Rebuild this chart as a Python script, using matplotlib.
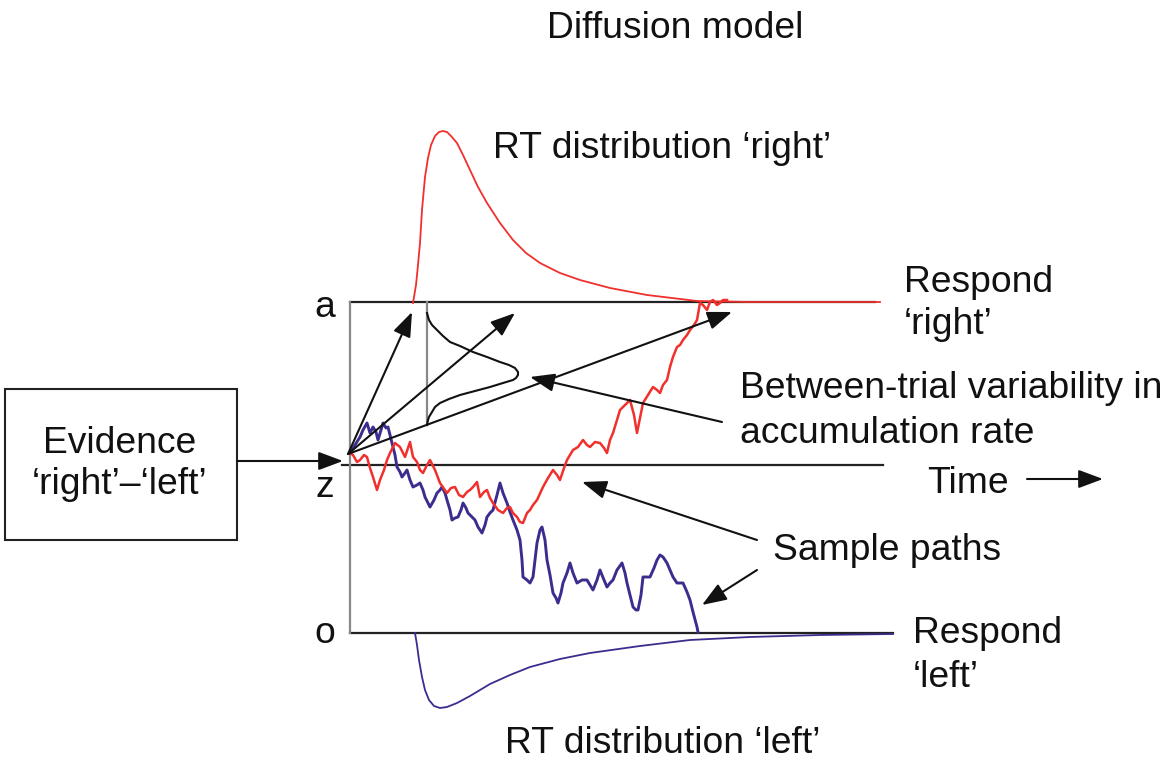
import matplotlib
matplotlib.use("Agg")
import matplotlib.pyplot as plt
from matplotlib.patches import Rectangle

plt.rcParams['font.family'] = ['Liberation Sans', 'DejaVu Sans']

# Model coordinates: t = time since stimulus onset, e = accumulated evidence
# (lower boundary o = 0, upper boundary a, starting point z)
BOUND_A = 331
START_Z = 168

# Sample path that terminates at the upper boundary ('right')
red_path_t = [0, 3, 7, 10, 14, 17, 20, 23, 27, 30, 34, 37, 40, 45, 50, 55, 60, 63, 67, 70,
              73, 77, 80, 85, 90, 97, 101, 105, 109, 113, 117, 120, 123, 127, 130, 134, 137,
              140, 143, 148, 153, 157, 160, 163, 167, 170, 173, 177, 180, 183, 187, 193, 198,
              203, 207, 210, 214, 217, 220, 223, 228, 233, 237, 240, 245, 250, 254, 257, 260,
              263, 267, 270, 275, 280, 284, 287, 290, 293, 298, 303, 307, 310, 313, 317, 320,
              323, 327, 330, 333, 337, 340, 344, 347, 350, 353, 357, 360, 363, 367, 370, 373, 377]
red_path_e = [180, 178, 171, 173, 178, 176, 165, 156, 143, 153, 163, 173, 180, 190, 186, 176,
              191, 176, 171, 163, 160, 168, 173, 163, 150, 140, 145, 146, 138, 136, 141, 143,
              146, 151, 136, 141, 143, 135, 130, 123, 120, 125, 126, 120, 116, 111, 110, 120,
              123, 128, 133, 146, 155, 163, 158, 153, 165, 173, 178, 183, 186, 193, 188, 186,
              191, 190, 185, 180, 193, 200, 213, 223, 228, 233, 218, 200, 215, 230, 238, 246,
              243, 240, 248, 253, 266, 276, 286, 288, 293, 298, 303, 308, 313, 330, 328, 323,
              331, 333, 328, 330, 333, 333]

# Sample path that terminates at the lower boundary ('left')
blue_path_t = [0, 5, 10, 13, 17, 20, 23, 26, 28, 31, 33, 36, 38, 40, 42, 45, 47, 50, 52, 55,
               57, 60, 63, 67, 70, 73, 75, 78, 80, 84, 87, 90, 92, 95, 97, 100, 102, 105, 108,
               111, 113, 116, 118, 122, 125, 128, 132, 135, 137, 140, 143, 147, 150, 153, 157,
               160, 163, 167, 170, 172, 173, 177, 180, 183, 185, 187, 190, 192, 195, 197, 200,
               203, 206, 208, 211, 213, 217, 220, 223, 227, 232, 237, 240, 243, 247, 250, 254,
               257, 260, 263, 267, 272, 275, 277, 280, 283, 286, 288, 291, 293, 297, 300, 304,
               307, 310, 313, 317, 320, 323, 327, 330, 333, 337, 340, 343, 347, 348]
blue_path_e = [180, 188, 196, 203, 210, 200, 206, 201, 193, 203, 210, 205, 206, 198, 190, 178,
               166, 161, 156, 160, 163, 153, 146, 148, 150, 143, 136, 130, 126, 133, 140, 143,
               146, 140, 133, 123, 113, 115, 116, 123, 130, 125, 120, 116, 113, 106, 100, 108,
               116, 120, 123, 138, 150, 140, 130, 121, 113, 103, 93, 73, 56, 53, 50, 56, 73, 90,
               103, 106, 93, 73, 58, 40, 35, 30, 40, 50, 60, 70, 60, 50, 53, 53, 48, 43, 53, 63,
               53, 46, 50, 53, 63, 70, 60, 50, 38, 26, 23, 23, 38, 56, 56, 56, 65, 73, 78, 76,
               70, 63, 56, 50, 50, 50, 41, 33, 21, 6, 1]

# RT distribution of 'right' responses, drawn above the upper boundary
rt_right_t = [63, 66, 68, 70, 72, 75, 78, 81, 85, 89, 93, 97, 101, 107, 113, 120, 128, 137,
              150, 163, 176, 190, 210, 230, 260, 297, 347, 400, 530]
rt_right_e = [330, 348, 368, 390, 423, 456, 475, 488, 497, 501, 502, 501, 497, 490, 478, 463,
              446, 430, 410, 393, 380, 370, 360, 353, 345, 338, 332, 331, 331]

# RT distribution of 'left' responses, drawn below the lower boundary
rt_left_t = [65, 67, 69, 72, 75, 79, 84, 90, 97, 107, 120, 140, 160, 180, 210, 240, 290, 340,
             400, 470, 543]
rt_left_e = [0, -12, -27, -44, -57, -67, -73, -75, -74, -70, -63, -51, -42, -34, -26, -20, -13,
             -7, -4, -2, -1]

# Distribution of drift rates across trials (drawn sideways)
drift_base_t = 77
drift_dist_t = [77, 79, 82, 87, 93, 100, 110, 123, 137, 150, 159, 165, 168, 168, 166, 163, 153,
                140, 125, 110, 99, 90, 85, 82, 79, 78, 77]
drift_dist_e = [320, 313, 308, 303, 297, 291, 287, 281, 276, 271, 268, 265, 261, 258, 255, 253,
                250, 246, 242, 238, 234, 230, 226, 221, 216, 213, 208]

# Drift vectors from the starting point (end points)
drift_end_t = [62, 165, 382]
drift_end_e = [321, 320, 321]

RED = '#f0302c'
BLUE = '#3c2c8e'
INK = '#111111'

fig = plt.figure(figsize=(11.70, 7.63), dpi=100)
ax = fig.add_axes([0, 0, 1, 1])
ax.set_xlim(-350, 820)
ax.set_ylim(-130, 633)
ax.axis('off')

# Boundaries and starting-point line
ax.plot([0, 525], [BOUND_A, BOUND_A], color='#222222', lw=1.6, zorder=2)
ax.plot([-8, 533], [START_Z, START_Z], color='#222222', lw=1.6, zorder=2)
ax.plot([0, 543], [0, 0], color='#222222', lw=1.6, zorder=2)
ax.plot([0, 0], [0, BOUND_A], color='#888888', lw=1.6, zorder=2)

# RT distributions
ax.plot(rt_right_t, rt_right_e, color=RED, lw=1.3, zorder=3)
ax.plot(rt_left_t, rt_left_e, color=BLUE, lw=1.3, zorder=3)

# Sample paths
ax.plot(blue_path_t, blue_path_e, color=BLUE, lw=2.1, zorder=4)
ax.plot(red_path_t, red_path_e, color=RED, lw=1.8, zorder=5)

# Drift-rate variability distribution
ax.plot([drift_base_t, drift_base_t], [208, BOUND_A], color='#888888', lw=1.6, zorder=3)
ax.plot(drift_dist_t, drift_dist_e, color=INK, lw=1.5, zorder=3)


def arrow(start, end):
    ax.annotate('', xy=end, xytext=start,
                arrowprops=dict(arrowstyle='-|>,head_length=0.75,head_width=0.28',
                                mutation_scale=20, lw=1.5, color=INK,
                                shrinkA=0, shrinkB=0), zorder=6)


origin = (-2, 179)
for t_end, e_end in zip(drift_end_t, drift_end_e):
    arrow(origin, (t_end, e_end))

arrow((-113, 172), (-7, 172))
arrow((372, 211), (180, 256))
arrow((407, 93), (232, 151))
arrow((407, 63), (352, 28))
arrow((677, 154), (753, 154))

# Evidence box
ax.add_patch(Rectangle((-345, 93), 232, 151, fill=False, lw=1.5,
                       edgecolor='#222222', zorder=2))

fs = 26.8
txt = dict(fontsize=fs, color=INK, va='baseline')
ax.text(197, 595, 'Diffusion model', ha='left', **txt)
ax.text(143, 475, 'RT distribution \u2018right\u2019', ha='left', **txt)
ax.text(155, -120, 'RT distribution \u2018left\u2019', ha='left', **txt)
ax.text(554, 341, 'Respond', ha='left', **txt)
ax.text(554, 299, '\u2018right\u2019', ha='left', **txt)
ax.text(390, 235, 'Between-trial variability in', ha='left', **txt)
ax.text(390, 190, 'accumulation rate', ha='left', **txt)
ax.text(577, 140, 'Time', ha='left', **txt)
ax.text(423, 73, 'Sample paths', ha='left', **txt)
ax.text(563, -10, 'Respond', ha='left', **txt)
ax.text(563, -54, '\u2018left\u2019', ha='left', **txt)
ax.text(-230, 180, 'Evidence', ha='center', **txt)
ax.text(-230, 139, '\u2018right\u2019\u2013\u2018left\u2019', ha='center', **txt)
ax.text(-25, 316, 'a', ha='center', **txt)
ax.text(-25, 136, 'z', ha='center', **txt)
ax.text(-25, -10, 'o', ha='center', **txt)

fig.savefig('out.png', dpi=100)
